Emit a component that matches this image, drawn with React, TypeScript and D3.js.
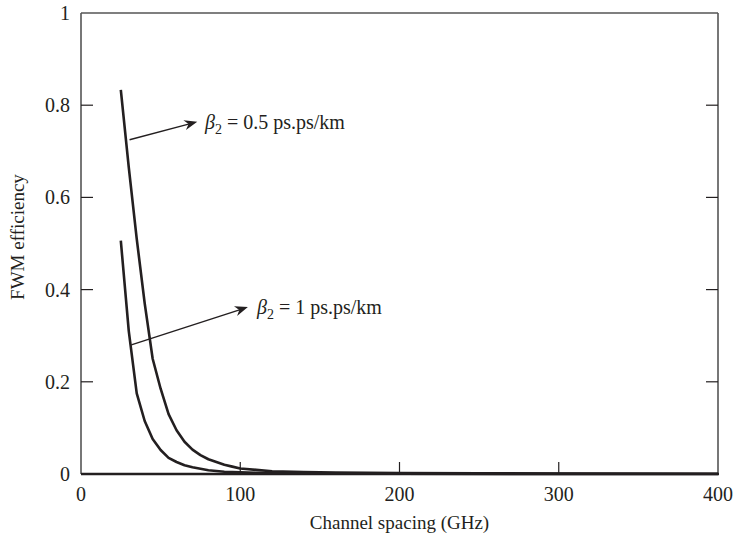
import React from "react";
import * as d3 from "d3";

const spacingHalf = [25, 30, 35, 40, 45, 50, 55, 60, 65, 70, 75, 80, 85, 90, 95, 100, 110, 120, 140, 160, 200, 250, 300, 400];
const effHalf = [0.833, 0.665, 0.51, 0.37, 0.25, 0.185, 0.13, 0.095, 0.07, 0.053, 0.041, 0.032, 0.026, 0.02, 0.016, 0.012, 0.009, 0.006, 0.004, 0.003, 0.002, 0.0015, 0.001, 0.0005];

const spacingOne = [25, 30, 35, 40, 45, 50, 55, 60, 65, 70, 80, 90, 100, 120, 150, 200, 300, 400];
const effOne = [0.506, 0.31, 0.175, 0.115, 0.076, 0.052, 0.035, 0.026, 0.019, 0.0145, 0.008, 0.005, 0.0035, 0.002, 0.001, 0.0005, 0.0002, 0.0001];

const xTicks = [0, 100, 200, 300, 400];
const yTicks = [0, 0.2, 0.4, 0.6, 0.8, 1];
const yTickLabels = ["0", "0.2", "0.4", "0.6", "0.8", "1"];

// annotation anchors in data units: [from x, from y, to x, to y]
const annHalf = [30.5, 0.725, 73, 0.764];
const annOne = [31.6, 0.280, 104.8, 0.362];

const W = 735;
const H = 538;
const M = { left: 81, right: 718, top: 13, bottom: 474 };

export default function App() {
  const x = d3.scaleLinear().domain([0, 400]).range([M.left, M.right]);
  const y = d3.scaleLinear().domain([0, 1]).range([M.bottom, M.top]);
  const line = d3
    .line<[number, number]>()
    .x((d) => x(d[0]))
    .y((d) => y(d[1]));
  const dHalf = line(spacingHalf.map((s, i) => [s, effHalf[i]]));
  const dOne = line(spacingOne.map((s, i) => [s, effOne[i]]));
  const font = "'Liberation Serif', 'Times New Roman', serif";
  const tickLen = 12;

  const arrow = (a: number[], key: string) => {
    const x1 = x(a[0]), y1 = y(a[1]), x2 = x(a[2]), y2 = y(a[3]);
    const ang = Math.atan2(y2 - y1, x2 - x1);
    const L = 13, Wd = 5, N = 9;
    const p = (dx: number, dy: number) => [
      x2 + dx * Math.cos(ang) - dy * Math.sin(ang),
      y2 + dx * Math.sin(ang) + dy * Math.cos(ang),
    ];
    const pts = [p(0, 0), p(-L, -Wd), p(-N, 0), p(-L, Wd)];
    return (
      <g key={key}>
        <line x1={x1} y1={y1} x2={x2 - 8 * Math.cos(ang)} y2={y2 - 8 * Math.sin(ang)} stroke="#231f20" strokeWidth={1.4} />
        <polygon points={pts.map((q) => q.join(",")).join(" ")} fill="#231f20" />
      </g>
    );
  };

  return (
    <svg width={W} height={H} style={{ position: "absolute", left: 0, top: 0, background: "#fff" }} fontFamily={font}>
      <rect x={0} y={0} width={W} height={H} fill="#fff" />
      {/* frame */}
      <line x1={M.left} y1={M.top} x2={M.right} y2={M.top} stroke="#555" strokeWidth={1.6} />
      <line x1={M.left} y1={M.top} x2={M.left} y2={M.bottom} stroke="#555" strokeWidth={1.6} />
      <line x1={M.right} y1={M.top} x2={M.right} y2={M.bottom} stroke="#555" strokeWidth={1.6} />
      <line x1={M.left} y1={M.bottom} x2={M.right + 1} y2={M.bottom} stroke="#231f20" strokeWidth={2.5} />
      {/* y ticks */}
      {yTicks.map((t, i) => (
        <g key={"y" + i}>
          {t > 0 && t < 1 && (
            <>
              <line x1={M.left} x2={M.left + tickLen} y1={y(t)} y2={y(t)} stroke="#231f20" strokeWidth={1.2} />
              <line x1={M.right} x2={M.right - tickLen} y1={y(t)} y2={y(t)} stroke="#231f20" strokeWidth={1.2} />
            </>
          )}
          <text x={M.left - 11} y={y(t)} dy="0.35em" textAnchor="end" fontSize={20} fill="#231f20">
            {yTickLabels[i]}
          </text>
        </g>
      ))}
      {/* x ticks */}
      {xTicks.map((t, i) => (
        <g key={"x" + i}>
          {t > 0 && t < 400 && (
            <line x1={x(t)} x2={x(t)} y1={M.bottom} y2={M.bottom - tickLen} stroke="#231f20" strokeWidth={1.2} />
          )}
          <text x={x(t)} y={501} textAnchor="middle" fontSize={20} fill="#231f20">
            {t}
          </text>
        </g>
      ))}
      {/* curves */}
      <path d={dHalf ?? ""} fill="none" stroke="#231f20" strokeWidth={2.6} strokeLinejoin="round" />
      <path d={dOne ?? ""} fill="none" stroke="#231f20" strokeWidth={2.6} strokeLinejoin="round" />
      {/* annotations */}
      {arrow(annHalf, "a1")}
      {arrow(annOne, "a2")}
      <text x={205} y={y(annHalf[3])} dy="0.35em" fontSize={20} fill="#231f20">
        <tspan fontStyle="italic">β</tspan>
        <tspan fontSize={14} dy={5}>2</tspan>
        <tspan dy={-5}> = 0.5 ps.ps/km</tspan>
      </text>
      <text x={257} y={y(annOne[3])} dy="0.35em" fontSize={20} fill="#231f20">
        <tspan fontStyle="italic">β</tspan>
        <tspan fontSize={14} dy={5}>2</tspan>
        <tspan dy={-5}> = 1 ps.ps/km</tspan>
      </text>
      {/* axis titles */}
      <text x={(M.left + M.right) / 2} y={529} textAnchor="middle" fontSize={19} fill="#231f20">
        Channel spacing (GHz)
      </text>
      <text transform={`translate(24, ${237}) rotate(-90)`} textAnchor="middle" fontSize={19} fill="#231f20">
        FWM efficiency
      </text>
    </svg>
  );
}
